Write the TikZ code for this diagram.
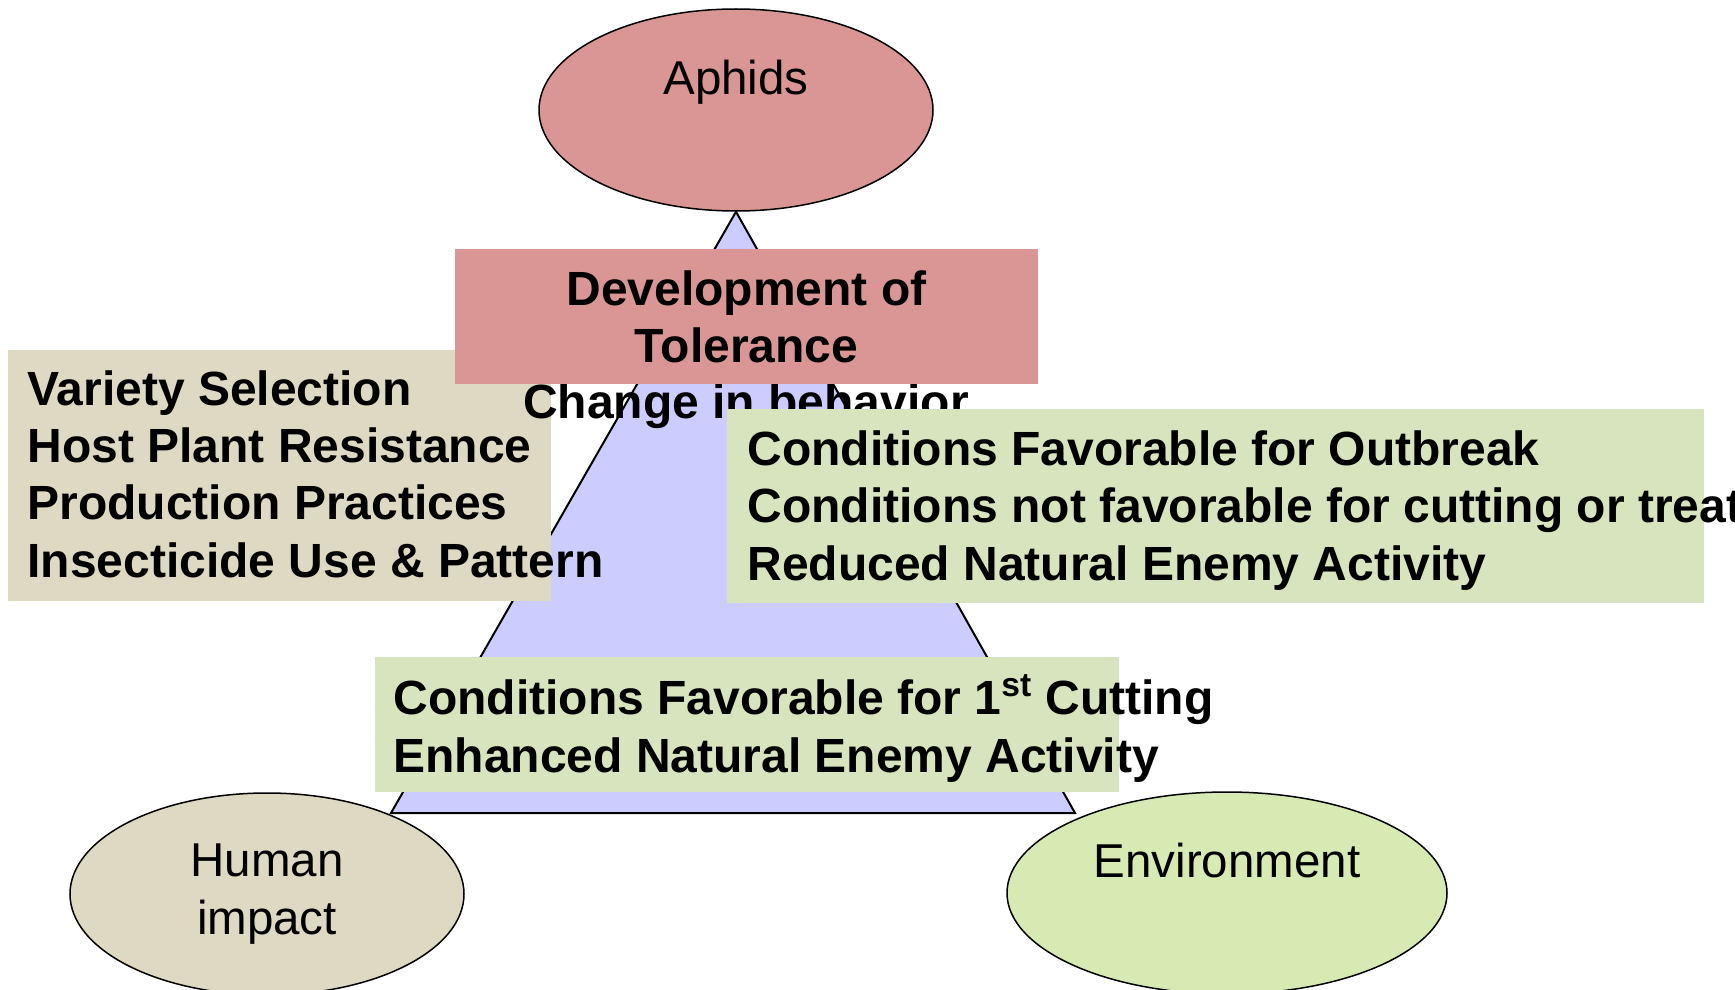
\documentclass[tikz,border=0pt]{standalone}
\usepackage{fontspec}
\setmainfont{Liberation Sans}
\usetikzlibrary{shapes.geometric}

\definecolor{aphidpink}{RGB}{217,150,148}
\definecolor{humanbeige}{RGB}{221,217,195}
\definecolor{envgreen}{RGB}{215,228,189}
\definecolor{envoval}{RGB}{216,234,180}
\definecolor{trililac}{RGB}{204,204,255}

\newcommand\ovalw{197pt}
\newcommand\ovalh{101pt}
\newcommand\bigtext{\fontsize{23.75}{28.65}\selectfont}
\newcommand\boldtext{\fontsize{24}{28.65}\selectfont\bfseries}

\tikzset{
  oval/.style={ellipse,draw,line width=0.75pt,minimum width=\ovalw,minimum height=\ovalh,inner sep=0pt,font=\bigtext,align=center},
  boxtext/.style={align=left,inner sep=0pt,font=\boldtext,anchor=base west},
}

\begin{document}
\begin{tikzpicture}[x=0.5pt,y=-0.5pt]
    \useasboundingbox (0,0) rectangle (1735,990);
    \clip (0,0) rectangle (1735,990);

    \node[oval,fill=aphidpink] (aphids) at (736,110) {};
    \node[oval,fill=humanbeige] (human) at (267,894) {Human\\ impact};
    \node[oval,fill=envoval,minimum width=220pt] (env) at (1227,893) {};
    \node[font=\bigtext,anchor=base,inner sep=0pt] (aphidslbl) at (736,95) {Aphids};
    \node[font=\bigtext,anchor=base,inner sep=0pt] (envlbl) at (1227,877) {Environment};

    \draw[fill=trililac,line width=1pt] (aphids.south) -- (391,813) -- (1075,813) -- cycle;

    \fill[humanbeige] (8,350) rectangle (551,601);
    \node[boxtext] (humanlist) at (27,577) {Variety Selection\\ Host Plant Resistance\\ Production Practices\\ Insecticide Use \& Pattern};

    \node[font=\boldtext,anchor=base,inner sep=0pt] (behavior) at (746,418) {Change in behavior};
    \node[fill=aphidpink,minimum width=291.5pt,minimum height=67.5pt,align=center,font=\boldtext] (tolerance) at (746.5,316.5) {Development of\\ Tolerance};

    \fill[envgreen] (727,409) rectangle (1704,603);
    \node[boxtext] (outbreak) at (747,580) {Conditions Favorable for Outbreak\\ Conditions not favorable for cutting or treatment\\ Reduced Natural Enemy Activity};

    \fill[envgreen] (375,657) rectangle (1119,792);
    \node[boxtext] (cutting) at (393,772) {Conditions Favorable for 1\textsuperscript{st} Cutting\\ Enhanced Natural Enemy Activity};
  \end{tikzpicture}
\end{document}
